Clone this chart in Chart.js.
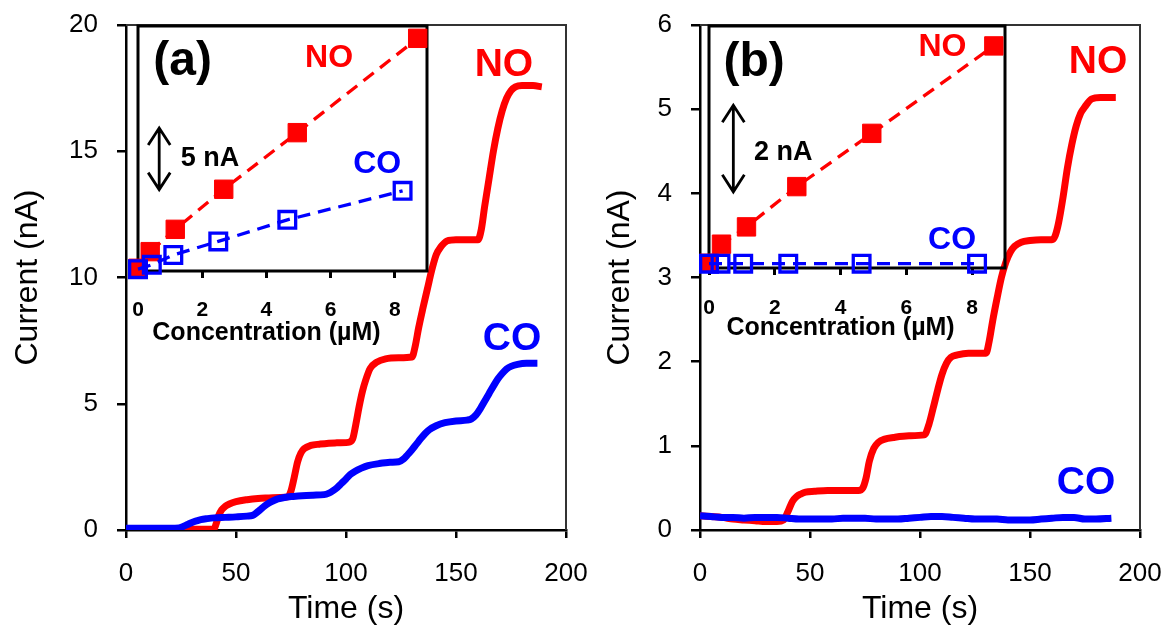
<!DOCTYPE html>
<html>
<head>
<meta charset="utf-8">
<script src="https://cdn.jsdelivr.net/npm/chart.js@4.4.1/dist/chart.umd.min.js"></script>
<style>
  body { margin: 0; background: #fff; }
  #wrap { position: relative; width: 1166px; height: 628px; overflow: hidden; background: #fff; }
  canvas { position: absolute; }
</style>
</head>
<body>
<div id="wrap">
  <canvas id="mainA" width="620" height="648" style="left:0;top:-20px"></canvas>
  <canvas id="mainB" width="660" height="648" style="left:540px;top:-20px"></canvas>
  <canvas id="insetA" width="360" height="350" style="left:100px;top:0"></canvas>
  <canvas id="insetB" width="370" height="350" style="left:670px;top:0"></canvas>
</div>
<script>
// panel (a) main traces, time in s, current in nA
const timeA_NO = [0,5,10,15,20,25,30,35,40,41,42,43.5,45,47,50,55,60,65,70,73.5,75,76.5,78,79.5,81,84,88,95,101,103,104.5,106,107.5,109,111,114,118,124,130,131.5,133,135,137,139,141,143,146,150,155,160,161.5,163,165,167,169,171,173,175,177,180,185,189];
const currA_NO = [0.05,0.05,0.05,0.05,0.04,0.04,0.03,0.03,0.04,0.25,0.55,0.8,0.93,1.03,1.12,1.2,1.25,1.27,1.29,1.31,1.55,2.1,2.7,3.05,3.22,3.35,3.4,3.45,3.47,3.6,4.2,4.9,5.5,5.95,6.4,6.65,6.78,6.82,6.85,7.3,8.0,8.8,9.55,10.3,10.9,11.2,11.45,11.5,11.5,11.5,11.9,12.8,13.9,15.0,15.9,16.6,17.1,17.4,17.55,17.6,17.6,17.55];
const timeA_CO = [0,5,10,15,20,24,26,28,30,32,34,37,40,45,50,55,57.5,59,61,63,65,67,69,72,76,80,85,90,92,94,96,98,100,102,104,107,110,115,120,124,126,128,130,132,134,136,138,141,145,150,155,157,159,161,163,165,167,169,171,173,175,178,182,187];
const currA_CO = [0.07,0.07,0.07,0.07,0.07,0.08,0.14,0.22,0.3,0.36,0.41,0.45,0.48,0.5,0.52,0.55,0.58,0.66,0.8,0.95,1.07,1.16,1.23,1.29,1.33,1.36,1.38,1.4,1.45,1.55,1.68,1.85,2.02,2.2,2.32,2.45,2.55,2.63,2.68,2.7,2.8,2.98,3.18,3.4,3.62,3.82,3.98,4.13,4.25,4.32,4.35,4.4,4.55,4.8,5.1,5.4,5.7,5.98,6.2,6.38,6.48,6.56,6.6,6.6];

// panel (b) main traces
const timeB_NO = [0,5,10,15,20,25,30,35,38,40,42,44,46,48,52,58,65,72,74,75.5,77,79,81,84,88,95,102,104,106,108,110,112,114,117,122,128,130,131.5,133,135,137,139,141,143,146,150,155,160,161.5,163,165,167,169,171,173,175,178,182,189];
const currB_NO = [0.17,0.16,0.15,0.13,0.12,0.11,0.1,0.1,0.12,0.22,0.34,0.4,0.43,0.45,0.46,0.47,0.47,0.47,0.5,0.62,0.82,0.97,1.04,1.08,1.1,1.12,1.13,1.25,1.45,1.66,1.85,1.98,2.05,2.08,2.1,2.1,2.1,2.25,2.48,2.75,3.0,3.18,3.3,3.37,3.42,3.44,3.45,3.45,3.5,3.65,3.95,4.3,4.58,4.8,4.95,5.03,5.12,5.14,5.14];
const timeB_CO = [0,5,10,15,20,25,30,35,40,45,50,55,60,65,70,75,80,85,90,95,100,105,110,115,120,125,130,135,140,145,150,155,160,165,170,175,180,187];
const currB_CO = [0.17,0.16,0.15,0.15,0.14,0.15,0.15,0.15,0.14,0.13,0.13,0.13,0.13,0.14,0.14,0.14,0.13,0.13,0.13,0.14,0.15,0.16,0.16,0.15,0.14,0.13,0.13,0.13,0.12,0.12,0.12,0.13,0.14,0.15,0.15,0.13,0.13,0.14];

// insets: concentration (uM) vs current (nA)
const concA_NO = [0, 0.38, 1.16, 2.67, 4.96, 8.71];
const insA_NO  = [0.02, 1.37, 3.18, 6.43, 11.02, 18.67];
const concA_CO = [0, 0.43, 1.1, 2.5, 4.65, 8.24];
const insA_CO  = [-0.05, 0.3, 1.1, 2.2, 3.95, 6.3];
const concB_NO = [0, 0.38, 1.14, 2.67, 4.95, 8.66];
const insB_NO  = [0.11, 0.55, 0.95, 1.88, 3.11, 5.13];
const concB_CO = [0, 0.35, 1.04, 2.41, 4.64, 8.15];
const insB_CO  = [0.1, 0.1, 0.1, 0.1, 0.1, 0.1];

const timeTicksStep = 50;
const FONT = "'Liberation Sans', Arial, sans-serif";
const RED = '#ff0000', BLUE = '#0000ff';

Chart.defaults.font.family = FONT;
Chart.defaults.color = '#000';
Chart.defaults.animation = false;

const pts = (xs, ys) => xs.map((x, i) => ({ x: x, y: ys[i] }));

const notes = {
  id: 'notes',
  beforeDatasetsDraw(chart, args, opts) {
    const ctx = chart.ctx, ca = chart.chartArea;
    ctx.save();
    ctx.strokeStyle = '#000';
    if (opts.frame === 'box') {
      ctx.lineWidth = 3;
      ctx.strokeRect(ca.left, ca.top, ca.right - ca.left, ca.bottom - ca.top);
    } else if (opts.frame === 'open') {
      ctx.lineWidth = 2;
      ctx.strokeStyle = '#333';
      ctx.beginPath();
      ctx.moveTo(ca.left, ca.top);
      ctx.lineTo(ca.right, ca.top);
      ctx.lineTo(ca.right, ca.bottom);
      ctx.stroke();
    }
    ctx.restore();
  },
  afterDraw(chart, args, opts) {
    const ctx = chart.ctx, xs = chart.scales.x, ys = chart.scales.y;
    ctx.save();
    (opts.texts || []).forEach(t => {
      ctx.font = 'bold ' + t.size + 'px ' + FONT;
      ctx.fillStyle = t.color;
      ctx.textAlign = t.align || 'center';
      ctx.textBaseline = 'middle';
      const y = t.py !== undefined ? t.py : ys.getPixelForValue(t.y);
      ctx.fillText(t.text, xs.getPixelForValue(t.x), y);
    });
    (opts.arrows || []).forEach(a => {
      const x = xs.getPixelForValue(a.x);
      const top = ys.getPixelForValue(a.y2), bot = ys.getPixelForValue(a.y1);
      ctx.strokeStyle = '#000';
      ctx.lineWidth = 2.8;
      ctx.lineJoin = 'miter';
      ctx.beginPath();
      ctx.moveTo(x, top); ctx.lineTo(x, bot);
      ctx.moveTo(x - 11, top + 17); ctx.lineTo(x, top); ctx.lineTo(x + 11, top + 17);
      ctx.moveTo(x - 11, bot - 17); ctx.lineTo(x, bot); ctx.lineTo(x + 11, bot - 17);
      ctx.stroke();
    });
    ctx.restore();
  }
};

function trace(data, color) {
  return {
    data: data, showLine: true, borderColor: color, borderWidth: 7,
    pointRadius: 0, cubicInterpolationMode: 'monotone', fill: false
  };
}

function mainChart(id, sets, yMax, yStep, yWidth, titlePad, padRight, texts) {
  return new Chart(document.getElementById(id), {
    type: 'scatter',
    data: { datasets: sets },
    options: {
      responsive: false,
      animation: false,
      events: [],
      layout: { padding: { top: 45, right: padRight, left: 0, bottom: 0 } },
      plugins: {
        legend: { display: false },
        tooltip: { enabled: false },
        notes: { frame: 'open', texts: texts }
      },
      scales: {
        x: {
          type: 'linear', min: 0, max: 200,
          ticks: { stepSize: timeTicksStep, font: { size: 26 }, padding: 20, maxRotation: 0 },
          grid: { drawOnChartArea: false, tickLength: 8, color: '#000', lineWidth: 2.5 },
          border: { color: '#000', width: 2.5 },
          title: { display: true, text: 'Time (s)', font: { size: 32 }, padding: { top: 0, bottom: 0 } },
          afterFit(s) { s.height = 98; }
        },
        y: {
          min: 0, max: yMax,
          ticks: { stepSize: yStep, font: { size: 26 }, padding: 19 },
          grid: { drawOnChartArea: false, tickLength: 9, color: '#000', lineWidth: 2.5 },
          border: { color: '#000', width: 2.5 },
          title: { display: true, text: 'Current (nA)', font: { size: 32 }, padding: { top: titlePad, bottom: 0 } },
          afterFit(s) { s.width = yWidth; }
        }
      }
    },
    plugins: [notes]
  });
}

function insetChart(id, sets, yMin, yMax, padLeft, padRight, xHeight, tickPad, texts, arrows) {
  return new Chart(document.getElementById(id), {
    type: 'scatter',
    data: { datasets: sets },
    options: {
      responsive: false,
      animation: false,
      events: [],
      layout: { padding: { top: 26, right: padRight, left: padLeft, bottom: 0 } },
      plugins: {
        legend: { display: false },
        tooltip: { enabled: false },
        notes: { frame: 'box', texts: texts, arrows: arrows }
      },
      scales: {
        x: {
          type: 'linear', min: 0, max: 9,
          ticks: { stepSize: 2, includeBounds: false, font: { size: 21, weight: 'bold' }, padding: tickPad, maxRotation: 0 },
          grid: { drawOnChartArea: false, tickLength: 7, color: '#000', lineWidth: 3 },
          border: { display: false },
          afterFit(s) { s.height = xHeight; }
        },
        y: { display: false, min: yMin, max: yMax }
      }
    },
    plugins: [notes]
  });
}

function insetSet(data, color, filled) {
  return {
    data: data, showLine: true, borderColor: color, borderWidth: 3.3, borderDash: [13, 8],
    pointStyle: 'rect', pointRadius: filled ? 13 : 11.8,
    pointBackgroundColor: filled ? color : 'rgba(0,0,0,0)',
    pointBorderColor: color, pointBorderWidth: filled ? 1 : 3.3,
    clip: false, order: filled ? 1 : 0
  };
}

const coOnTop = (no, co) => [Object.assign(co, { order: 0 }), Object.assign(no, { order: 1 })];

mainChart('mainA',
  coOnTop(trace(pts(timeA_NO, currA_NO), RED), trace(pts(timeA_CO, currA_CO), BLUE)),
  20, 5, 126, 8.5, 54,
  [ { text: 'NO', x: 171.8, y: 18.42, size: 39, color: RED },
    { text: 'CO', x: 175.5, y: 7.56, size: 39, color: BLUE } ]);

mainChart('mainB',
  coOnTop(trace(pts(timeB_NO, currB_NO), RED), trace(pts(timeB_CO, currB_CO), BLUE)),
  6, 1, 160, 60.8, 60,
  [ { text: 'NO', x: 180.9, y: 5.56, size: 39, color: RED },
    { text: 'CO', x: 175.5, y: 0.55, size: 39, color: BLUE } ]);

insetChart('insetA',
  [insetSet(pts(concA_NO, insA_NO), RED, true), insetSet(pts(concA_CO, insA_CO), BLUE, false)],
  -0.2, 19.67, 38, 33, 79, 20,
  [ { text: '(a)', x: 1.39, y: 16.75, size: 48, color: '#000' },
    { text: 'NO', x: 5.95, y: 17.03, size: 32, color: RED },
    { text: 'CO', x: 7.45, y: 8.48, size: 32, color: BLUE },
    { text: '5 nA', x: 1.33, y: 8.96, size: 27, color: '#000', align: 'left' },
    { text: 'Concentration (µM)', x: 4, py: 333, size: 25, color: '#000' } ],
  [ { x: 0.66, y1: 6.4, y2: 11.4 } ]);

insetChart('insetB',
  [insetSet(pts(concB_NO, insB_NO), RED, true), insetSet(pts(concB_CO, insB_CO), BLUE, false)],
  0, 5.59, 39, 35, 82, 21,
  [ { text: '(b)', x: 1.37, y: 4.75, size: 48, color: '#000' },
    { text: 'NO', x: 7.1, y: 5.09, size: 32, color: RED },
    { text: 'CO', x: 7.39, y: 0.65, size: 32, color: BLUE },
    { text: '2 nA', x: 1.37, y: 2.67, size: 27, color: '#000', align: 'left' },
    { text: 'Concentration (µM)', x: 4, py: 328, size: 25, color: '#000' } ],
  [ { x: 0.74, y1: 1.76, y2: 3.76 } ]);
</script>
</body>
</html>
